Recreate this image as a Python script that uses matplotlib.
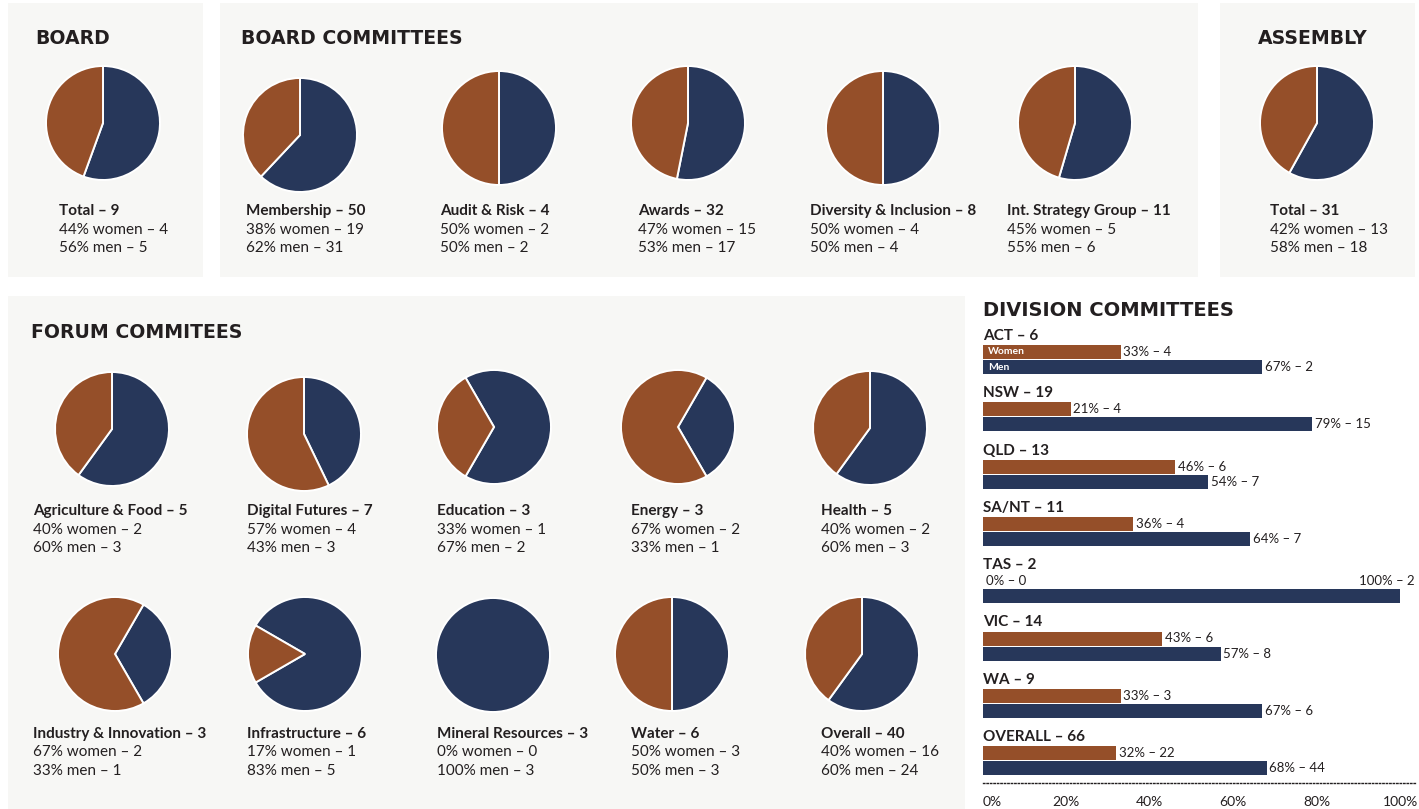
import numpy as np
import matplotlib
matplotlib.use("Agg")
import matplotlib.pyplot as plt
from matplotlib.patches import Rectangle

plt.rcParams['font.family'] = ['Lato', 'DejaVu Sans']

# colours
BROWN = '#954f29'
NAVY = '#27375a'
PANEL = '#f7f7f5'
INK = '#231f20'

# ---- data ----
board_women, board_men = 4, 5
assembly_women, assembly_men = 13, 18

committee_names = ['Membership', 'Audit & Risk', 'Awards', 'Diversity & Inclusion', 'Int. Strategy Group']
committee_women = [19, 2, 15, 4, 5]
committee_men = [31, 2, 17, 4, 6]

forum_names = ['Agriculture & Food', 'Digital Futures', 'Education', 'Energy', 'Health',
               'Industry & Innovation', 'Infrastructure', 'Mineral Resources', 'Water', 'Overall']
forum_women = [2, 4, 1, 2, 2, 2, 1, 0, 3, 16]
forum_men = [3, 3, 2, 1, 3, 1, 5, 3, 3, 24]
# pies drawn with the women slice centred on the left instead of starting at the top
forum_centred = ['Education', 'Energy', 'Industry & Innovation', 'Infrastructure']

division_names = ['ACT', 'NSW', 'QLD', 'SA/NT', 'TAS', 'VIC', 'WA', 'OVERALL']
division_total = [6, 19, 13, 11, 2, 14, 9, 66]
division_women = [4, 4, 6, 4, 0, 6, 3, 22]
division_men = [2, 15, 7, 7, 2, 8, 6, 44]
division_women_pct = [33, 21, 46, 36, 0, 43, 33, 32]
division_men_pct = [67, 79, 54, 64, 100, 57, 67, 68]
axis_ticks = [0, 20, 40, 60, 80, 100]

# ---- figure in pixel coordinates ----
W, H = 1419, 809
fig = plt.figure(figsize=(W / 100, H / 100), dpi=100)
fig.patch.set_facecolor('white')


def fx(x):
    return x / W


def fy(y):
    return 1 - y / H


def panel(x, y, w, h):
    fig.patches.append(Rectangle((fx(x), fy(y + h)), w / W, h / H, transform=fig.transFigure,
                                 facecolor=PANEL, edgecolor='none', zorder=-10))


def title(x, y, s, size=13.6, weight='bold', family='DejaVu Sans'):
    fig.text(fx(x), fy(y), s, fontsize=size, fontweight=weight, color=INK, va='center', ha='left',
             family=family)


def pie(cx, cy, women, men, start=90, r=57):
    pad = 3
    ax = fig.add_axes([fx(cx - r - pad), fy(cy + r + pad), (2 * r + 2 * pad) / W, (2 * r + 2 * pad) / H])
    vals, cols = [], []
    for v, c in zip([men, women], [NAVY, BROWN]):
        if v > 0:
            vals.append(v)
            cols.append(c)
    ax.pie(vals, colors=cols, startangle=start, counterclock=False, radius=1,
           wedgeprops=dict(edgecolor='white', linewidth=1.4))
    lim = (r + pad) / r
    ax.set_xlim(-lim, lim)
    ax.set_ylim(-lim, lim)
    ax.set_aspect('equal')
    ax.axis('off')


def caption(x, y, name, women, men):
    total = women + men
    pw = round(100 * women / total)
    pm = round(100 * men / total)
    fig.text(fx(x), fy(y), f'{name} – {total}', fontsize=11, fontweight='bold', color=INK, va='center')
    fig.text(fx(x), fy(y + 18.5), f'{pw}% women – {women}', fontsize=11, color=INK, va='center')
    fig.text(fx(x), fy(y + 37), f'{pm}% men – {men}', fontsize=11, color=INK, va='center')


# panels
panel(8, 3, 195, 274)
panel(220, 3, 978, 274)
panel(1220, 3, 195, 274)
panel(8, 296, 957, 513)

# top row
title(35, 39, 'BOARD')
title(241, 39, 'BOARD COMMITTEES')
title(1258, 39, 'ASSEMBLY')

pie(103, 123, board_women, board_men)
caption(59, 211, 'Total', board_women, board_men)

com_x = [300, 499, 688, 883, 1075]
com_y = [135, 128, 123, 128, 123]
com_tx = [246, 440, 638, 810, 1007]
for i, name in enumerate(committee_names):
    pie(com_x[i], com_y[i], committee_women[i], committee_men[i])
    caption(com_tx[i], 211, name, committee_women[i], committee_men[i])

pie(1317, 123, assembly_women, assembly_men)
caption(1270, 211, 'Total', assembly_women, assembly_men)

# forum committees
title(31, 333, 'FORUM COMMITEES')
f_x = [112, 304, 494, 678, 870, 115, 305, 493, 672, 862]
f_y = [429, 434, 427, 427, 428, 654, 654, 655, 654, 654]
f_tx = [33, 247, 437, 631, 821]
for i, name in enumerate(forum_names):
    w, m = forum_women[i], forum_men[i]
    start = 90
    if name in forum_centred:
        start = 180 - 180 * w / (w + m)
    pie(f_x[i], f_y[i], w, m, start=start)
    caption(f_tx[i % 5], 511 if i < 5 else 734, name, w, m)

# division committees
title(983, 310, 'DIVISION COMMITTEES', size=14, weight='heavy')

x0, x1, ytop, ybot = 983, 1415, 328, 783
step = 57.3
ax = fig.add_axes([fx(x0), fy(ybot), (x1 - x0) / W, (ybot - ytop) / H])
ax.set_facecolor('none')
ax.set_xlim(0, 100 * (x1 - x0) / 417)
ax.set_ylim((ybot - 336) / step, (ytop - 336) / step)

idx = np.arange(len(division_names))
yw = idx + 16 / step
ym = idx + 31 / step
bh = 14 / step
ax.barh(yw, division_women_pct, height=bh, color=BROWN)
ax.barh(ym, division_men_pct, height=bh, color=NAVY)

for i, name in enumerate(division_names):
    ax.text(0, idx[i], f'{name} – {division_total[i]}', fontsize=11, fontweight='bold',
            color=INK, va='center', ha='left')
    ax.annotate(f'{division_women_pct[i]}% – {division_women[i]}', (division_women_pct[i], yw[i]),
                xytext=(2, 0), textcoords='offset points', fontsize=9.5, color=INK, va='center')
    if division_men_pct[i] >= 100:
        ax.annotate(f'{division_men_pct[i]}% – {division_men[i]}', (1, yw[i]),
                    xycoords=('axes fraction', 'data'), fontsize=9.5, color=INK, va='center', ha='right')
    else:
        ax.annotate(f'{division_men_pct[i]}% – {division_men[i]}', (division_men_pct[i], ym[i]),
                    xytext=(2, 0), textcoords='offset points', fontsize=9.5, color=INK, va='center')

ax.text(1.2, yw[0], 'Women', fontsize=7.5, fontweight='bold', color='white', va='center')
ax.text(1.2, ym[0], 'Men', fontsize=7.5, fontweight='bold', color='white', va='center')

for s in ['top', 'left', 'right']:
    ax.spines[s].set_visible(False)
ax.spines['bottom'].set_linestyle((0, (1, 1.5)))
ax.spines['bottom'].set_color(INK)
ax.spines['bottom'].set_linewidth(1)
ax.set_yticks([])
ax.set_xticks(axis_ticks)
ax.set_xticklabels([f'{t}%' for t in axis_ticks], fontsize=10, color=INK)
ax.tick_params(axis='x', length=0, pad=9)
labs = ax.get_xticklabels()
labs[0].set_ha('left')

fig.savefig('out.png', dpi=100)
